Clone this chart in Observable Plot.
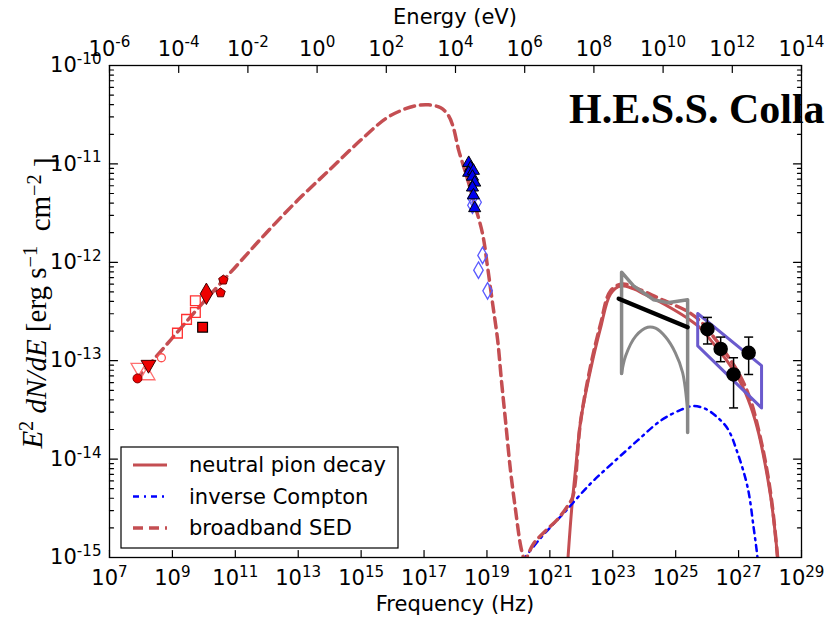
<!DOCTYPE html>
<html><head><meta charset="utf-8">
<script src="https://cdn.jsdelivr.net/npm/d3@7"></script>
<script src="https://cdn.jsdelivr.net/npm/@observablehq/plot@0.6"></script>
<style>
body{margin:0;background:#fff;}
#chart{position:relative;width:825px;height:619px;overflow:hidden;background:#fff;}
</style></head><body><div id="chart"></div>
<script>
// ---------- data (log10 values) ----------
const xTickExps = [7,9,11,13,15,17,19,21,23,25,27,29];
const energyTickExps = [-6,-4,-2,0,2,4,6,8,10,12,14];
const yTickExps = [-15,-14,-13,-12,-11,-10];

// broadband SED (dashed)
const sedLogNu = [7.83,8.94,9.89,10.97,11.96,12.98,14.03,14.98,15.78,16.25,16.73,17.14,17.53,17.78,17.94,18.10,18.35,18.57,18.86,19.02,19.18,19.34,19.46,19.59,19.75,19.91,20.07,20.16,20.20,20.48,20.86,21.25,21.56,21.72,21.82,21.88,21.98,22.29,22.61,22.93,23.31,23.88,24.43,24.93,25.38,25.79,26.21,26.65,27.06,27.38,27.64,27.86,28.05,28.24,28.27];
const sedLogF  = [-13.20,-12.79,-12.44,-12.06,-11.71,-11.37,-11.05,-10.76,-10.54,-10.46,-10.41,-10.40,-10.43,-10.51,-10.64,-10.86,-11.12,-11.37,-11.71,-12.05,-12.42,-12.79,-13.20,-13.61,-14.12,-14.52,-14.88,-15.00,-15.03,-14.86,-14.73,-14.61,-14.48,-14.39,-14.20,-13.94,-13.61,-13.06,-12.63,-12.29,-12.22,-12.28,-12.36,-12.43,-12.50,-12.60,-12.76,-12.95,-13.16,-13.40,-13.71,-14.04,-14.42,-15.00,-15.13];

// neutral pion decay (solid)
const pionLogNu = [21.56,21.69,21.82,21.98,22.29,22.61,22.93,23.25,23.66,24.04,24.43,24.93,25.38,25.79,26.21,26.65,27.06,27.38,27.64,27.86,28.05,28.24,28.27];
const pionLogF  = [-15.08,-14.52,-14.09,-13.61,-13.10,-12.67,-12.32,-12.24,-12.27,-12.33,-12.39,-12.48,-12.57,-12.67,-12.83,-13.01,-13.22,-13.46,-13.74,-14.08,-14.45,-15.00,-15.13];

// inverse Compton (dash-dot)
const icLogNu = [20.13,20.71,21.44,22.29,23.03,23.79,24.52,25.16,25.57,25.95,26.27,26.65,26.97,27.29,27.48,27.60,27.63];
const icLogF  = [-15.03,-14.80,-14.55,-14.25,-14.03,-13.81,-13.61,-13.50,-13.46,-13.49,-13.56,-13.69,-13.94,-14.29,-14.70,-15.00,-15.13];

// radio points
const radioLogNu = [7.89,7.92,8.24,8.21,8.65,9.16,9.45,9.73,9.73,9.96,10.08,10.53,10.62];
const radioLogF  = [-13.18,-13.07,-13.04,-13.15,-12.97,-12.72,-12.58,-12.51,-12.39,-12.66,-12.32,-12.31,-12.18];
const radioSet   = ["circleFilled","triDownOpen","triDownFilled","triUpOpen","circleOpen","squareOpen","squareOpen","squareOpen","squareOpen","squareFilled","diamondFilled","pentagonFilled","pentagonFilled"];

// X-ray points
const xrayTriLogNu = [18.42,18.48,18.42,18.57,18.54,18.61,18.54,18.57,18.61];
const xrayTriLogF  = [-10.99,-11.04,-11.09,-11.07,-11.13,-11.19,-11.24,-11.32,-11.45];
const xrayDiaLogNu = [18.54,18.67,18.54,18.86,18.73,19.02];
const xrayDiaLogF  = [-11.35,-11.39,-11.42,-11.93,-12.08,-12.29];

// gamma (Fermi-like bowtie, grey)
const fermiUpLogNu = [23.28,23.28,23.66,24.30,24.74,25.38,25.38];
const fermiUpLogF  = [-13.13,-12.10,-12.24,-12.38,-12.41,-12.38,-13.73];
const fermiLoLogNu = [23.28,23.41,23.73,24.11,24.36,24.68,24.99,25.22,25.38];
const fermiLoLogF  = [-13.13,-12.95,-12.75,-12.66,-12.67,-12.76,-12.92,-13.12,-13.51];
const fermiFitLogNu = [23.19,25.38];
const fermiFitLogF  = [-12.37,-12.66];

// H.E.S.S. points & bowtie
const hessLogNu = [26.01,26.43,26.84,27.32];
const hessLogF  = [-12.68,-12.88,-13.14,-12.92];
const hessLogHi = [-12.56,-12.76,-12.97,-12.76];
const hessLogLo = [-12.83,-13.01,-13.48,-13.14];
const hessBowLogNu = [25.70,27.73,27.73,25.70,25.70];
const hessBowLogF  = [-12.52,-13.05,-13.48,-12.85,-12.52];

const legendLabels = ["neutral pion decay","inverse Compton","broadband SED"];

// ---------- build tables ----------
const pts = (lx, ly) => lx.map((v,i)=>({nu:10**v, f:10**ly[i]}));
const sed = pts(sedLogNu, sedLogF);
const pion = pts(pionLogNu, pionLogF);
const ic = pts(icLogNu, icLogF);
const radio = radioLogNu.map((v,i)=>({nu:10**v, f:10**radioLogF[i], set:radioSet[i]}));
const xtri = pts(xrayTriLogNu, xrayTriLogF);
const xdia = pts(xrayDiaLogNu, xrayDiaLogF);
const fUp = pts(fermiUpLogNu, fermiUpLogF);
const fLo = pts(fermiLoLogNu, fermiLoLogF);
const fFit = pts(fermiFitLogNu, fermiFitLogF);
const hess = hessLogNu.map((v,i)=>({nu:10**v, f:10**hessLogF[i], hi:10**hessLogHi[i], lo:10**hessLogLo[i]}));
const hBow = pts(hessBowLogNu, hessBowLogF);

const xTicks = xTickExps.map(e=>10**e);
// top energy axis spans 1e-6..1e14 eV across the same frame as 1e7..1e29 Hz
const eToNu = e => 10**(7 + (e + 6) * 22/20);
const topTicks = energyTickExps.map(eToNu);
const nuToEexp = d => Math.round((Math.log10(d) - 7) * 20/22 - 6);
const yTicks = yTickExps.map(e=>10**e);
const yMinor = [];
for (let k=-15;k<-10;k++) for (let m=2;m<=9;m++) yMinor.push(m*10**k);

const RED = "#c44e52";
const tickShape = {draw(ctx, l){ ctx.moveTo(0,0); ctx.lineTo(0,-l); }};
const hline = {draw(ctx, size){ const r=Math.sqrt(size/Math.PI); ctx.moveTo(-r,0); ctx.lineTo(r,0); }};
const pentagon = {draw(ctx, size){ const r=Math.sqrt(size/Math.PI)*1.1; for(let i=0;i<5;i++){const a=-Math.PI/2+i*2*Math.PI/5; const px=r*Math.cos(a), py=r*Math.sin(a); i?ctx.lineTo(px,py):ctx.moveTo(px,py);} ctx.closePath(); }};

const sel = s => radio.filter(d=>d.set===s);
const tk = {stroke:"black", strokeWidth:1.2, shape:tickShape, anchor:"start"};

const plot = Plot.plot({
  width: 825, height: 619,
  marginLeft: 109, marginRight: 24, marginTop: 65, marginBottom: 62,
  style: {fontFamily: "DejaVu Sans", fontSize: "21px", background: "white", color: "black", overflow: "visible"},
  x: {type: "log", domain: [1e7, 1e29]},
  y: {type: "log", domain: [1e-15, 1e-10]},
  marks: [
    // model curves
    Plot.line(pion, {x:"nu", y:"f", stroke:RED, strokeWidth:3, curve:"catmull-rom", clip:true}),
    Plot.line(ic, {x:"nu", y:"f", stroke:"blue", strokeWidth:2.5, strokeDasharray:"6,5,2,5", curve:"catmull-rom", clip:true}),
    Plot.line(sed, {x:"nu", y:"f", stroke:RED, strokeWidth:3.5, strokeDasharray:"10,6", curve:"catmull-rom", clip:true}),
    // gamma bowties
    Plot.line(fUp, {x:"nu", y:"f", stroke:"#888", strokeWidth:3.5, curve:"linear"}),
    Plot.line(fLo, {x:"nu", y:"f", stroke:"#888", strokeWidth:3, curve:"catmull-rom"}),
    Plot.line(fFit, {x:"nu", y:"f", stroke:"black", strokeWidth:4.5}),
    Plot.line(hBow, {x:"nu", y:"f", stroke:"#6a5acd", strokeWidth:3}),
    // HESS points
    Plot.link(hess, {x1:"nu", x2:"nu", y1:"lo", y2:"hi", stroke:"black", strokeWidth:1.5}),
    Plot.dot(hess, {x:"nu", y:"hi", symbol:hline, r:4.5, stroke:"black", strokeWidth:1.5}),
    Plot.dot(hess, {x:"nu", y:"lo", symbol:hline, r:4.5, stroke:"black", strokeWidth:1.5}),
    Plot.dot(hess, {x:"nu", y:"f", r:6.5, fill:"black", stroke:"black"}),
    // X-ray
    Plot.dot(xdia, {x:"nu", y:"f", symbol:"diamond", r:5, stroke:"#5a5aff", strokeWidth:1.3, fill:"none"}),
    Plot.dot(xtri, {x:"nu", y:"f", symbol:"triangle", r:4.5, fill:"#0000ee", stroke:"black", strokeWidth:1}),
    // radio
    Plot.dot(sel("triDownOpen"), {x:"nu", y:"f", symbol:"triangle", rotate:180, r:5.5, stroke:"#ff7070", fill:"none", strokeWidth:1.3}),
    Plot.dot(sel("triUpOpen"), {x:"nu", y:"f", symbol:"triangle", r:5.5, stroke:"#ff7070", fill:"none", strokeWidth:1.3}),
    Plot.dot(sel("circleOpen"), {x:"nu", y:"f", symbol:"circle", r:4, stroke:"#ff5050", fill:"none", strokeWidth:1.3}),
    Plot.dot(sel("squareOpen"), {x:"nu", y:"f", symbol:"square", r:5.5, stroke:"#ff3030", fill:"none", strokeWidth:1.3}),
    Plot.dot(sel("circleFilled"), {x:"nu", y:"f", symbol:"circle", r:4.5, fill:"#ee0000", stroke:"#800000", strokeWidth:1}),
    Plot.dot(sel("triDownFilled"), {x:"nu", y:"f", symbol:"triangle", rotate:180, r:5.5, fill:"#ee0000", stroke:"#400000", strokeWidth:1}),
    Plot.dot(sel("squareFilled"), {x:"nu", y:"f", symbol:"square", r:5.5, fill:"#ee0000", stroke:"black", strokeWidth:1.2}),
    Plot.dot(sel("diamondFilled"), {x:"nu", y:"f", symbol:"diamond", r:6.5, fill:"#ee0000", stroke:"#400000", strokeWidth:1}),
    Plot.dot(sel("pentagonFilled"), {x:"nu", y:"f", symbol:pentagon, r:4.5, fill:"#ee0000", stroke:"#600000", strokeWidth:1}),
    // frame
    Plot.frame({stroke:"black", strokeWidth:1.3}),
    // inward ticks
    Plot.vectorX(xTicks, {x:d=>d, frameAnchor:"bottom", rotate:0, length:7, ...tk}),
    Plot.vectorX(topTicks, {x:d=>d, frameAnchor:"top", rotate:180, length:7, ...tk}),
    Plot.vectorY(yTicks, {y:d=>d, frameAnchor:"left", rotate:90, length:8, ...tk}),
    Plot.vectorY(yMinor, {y:d=>d, frameAnchor:"left", rotate:90, length:4, ...tk}),
    Plot.vectorY(yTicks, {y:d=>d, frameAnchor:"right", rotate:-90, length:8, ...tk}),
    Plot.vectorY(yMinor, {y:d=>d, frameAnchor:"right", rotate:-90, length:4, ...tk}),
    // tick labels
    Plot.axisX({anchor:"bottom", ticks:xTicks, tickSize:0, tickPadding:13, tickFormat:d=>"10^"+Math.round(Math.log10(d)), label:null}),
    Plot.axisX({anchor:"top", ticks:topTicks, tickSize:0, tickPadding:10, tickFormat:d=>"10^"+nuToEexp(d), label:null}),
    Plot.axisY({anchor:"left", ticks:yTicks, tickSize:0, tickPadding:8, tickFormat:d=>"10^"+Math.round(Math.log10(d)), label:null})
  ]
});

document.getElementById("chart").appendChild(plot);
const svg = d3.select(plot);

// superscripts on tick labels
svg.selectAll("text").each(function(){
  const t = this.textContent;
  const m = /^10\^(.+)$/.exec(t);
  if (m) {
    this.textContent = "10";
    d3.select(this).append("tspan").attr("dy","-0.55em").attr("font-size","0.72em").text(m[1]);
  }
});

// axis titles
svg.append("text").attr("x", 455).attr("y", 611).attr("text-anchor","middle")
  .attr("font-family","DejaVu Sans").attr("font-size",21).attr("fill","black").text("Frequency (Hz)");
svg.append("text").attr("x", 455).attr("y", 24).attr("text-anchor","middle")
  .attr("font-family","DejaVu Sans").attr("font-size",21).attr("fill","black").text("Energy (eV)");

// y label (math-style)
const yl = svg.append("text").attr("transform","translate(42,303) rotate(-90)").attr("text-anchor","middle")
  .attr("font-family","Liberation Serif").attr("font-size",29).attr("fill","black");
yl.append("tspan").attr("font-style","italic").text("E");
yl.append("tspan").attr("dy","-0.45em").attr("font-size","0.7em").text("2");
yl.append("tspan").attr("dy","0.45em").attr("font-style","italic").text(" dN/dE");
yl.append("tspan").text(" [erg s");
yl.append("tspan").attr("dy","-0.45em").attr("font-size","0.7em").text("−1");
yl.append("tspan").attr("dy","0.45em").text("  cm");
yl.append("tspan").attr("dy","-0.45em").attr("font-size","0.7em").text("−2");
yl.append("tspan").attr("dy","0.45em").text(" ]");

// title
svg.append("text").attr("x", 569).attr("y", 123).attr("text-anchor","start").attr("font-family","Liberation Serif")
  .attr("font-weight","bold").attr("font-size",42).attr("fill","black").text("H.E.S.S. Colla");

// legend
const lg = svg.append("g");
lg.append("rect").attr("x",121).attr("y",447).attr("width",277).attr("height",101)
  .attr("fill","white").attr("stroke","black").attr("stroke-width",1.2);
const legendStyles = [
  {stroke:RED, w:3, dash:null},
  {stroke:"blue", w:2.5, dash:"6,5,2,5"},
  {stroke:RED, w:3.5, dash:"10,6"}
];
legendLabels.forEach((lab,i)=>{
  const y = 465 + i*31.5;
  const st = legendStyles[i];
  lg.append("line").attr("x1",133).attr("x2",167).attr("y1",y).attr("y2",y)
    .attr("stroke",st.stroke).attr("stroke-width",st.w).attr("stroke-dasharray",st.dash);
  lg.append("text").attr("x",189).attr("y",y).attr("dy","0.35em").attr("text-anchor","start")
    .attr("font-family","DejaVu Sans").attr("font-size",21).attr("fill","black").text(lab);
});
</script></body></html>
